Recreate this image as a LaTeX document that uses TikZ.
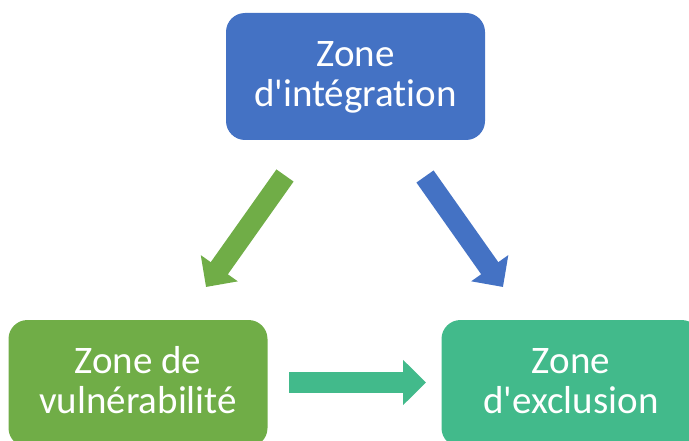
\documentclass[tikz,border=0pt]{standalone}
\usepackage{fontspec}
\setmainfont{Carlito}[Ligatures=NoCommon]
\usetikzlibrary{arrows.meta}
\definecolor{zblue}{HTML}{4472C4}
\definecolor{zgreen}{HTML}{70AD47}
\definecolor{zteal}{HTML}{42BA8B}
\newcommand{\topstrut}{\rule{0pt}{30pt}}
\newcommand{\botstrut}{\rule[-10.4pt]{0pt}{10.4pt}}
\tikzset{
  zonebox/.style={rounded corners=19pt, minimum width=259pt, minimum height=127pt,
    text=white, align=center, inner sep=0pt,
    font=\fontsize{39}{40.2}\selectfont},
  blockarrow/.style={line width=21pt, -{Triangle[length=23pt,width=44pt]}}
}
\begin{document}
\begin{tikzpicture}[x=1pt,y=-1pt]
\useasboundingbox (0,0) rectangle (689,441);
\clip (0,0) rectangle (689,441);
\node[zonebox, fill=zblue] (integ) at (355.5,76.5) {\topstrut Zone\\d\textquotesingle intégration\botstrut};
\node[zonebox, fill=zgreen] (vuln) at (138,383.5) {\topstrut Zone de\\vulnérabilité\botstrut};
\node[zonebox, fill=zteal] (excl) at (571,383.5) {\topstrut Zone\\d\textquotesingle exclusion\botstrut};
\coordinate (g1) at (285,175.5);
\coordinate (g2) at (206,287);
\coordinate (b1) at (425,176.5);
\coordinate (b2) at (503,287);
\coordinate (t1) at (289,382.5);
\coordinate (t2) at (426,382.5);
\draw[blockarrow, draw=zgreen, fill=zgreen] (g1) -- (g2);
\draw[blockarrow, draw=zblue, fill=zblue] (b1) -- (b2);
\draw[blockarrow, draw=zteal, fill=zteal] (t1) -- (t2);
\end{tikzpicture}
\end{document}
